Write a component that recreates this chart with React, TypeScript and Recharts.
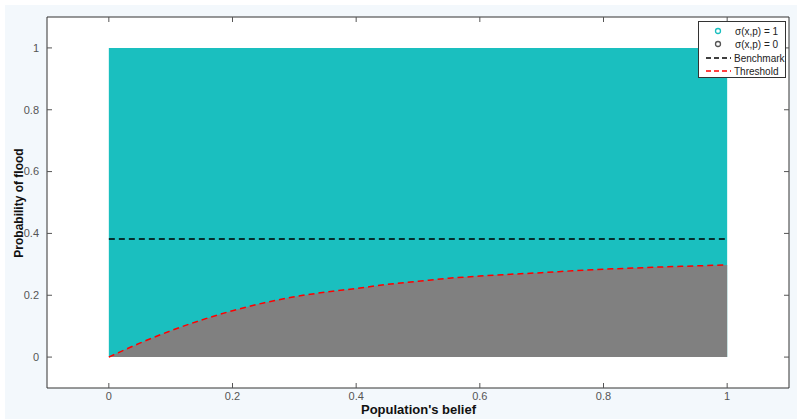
import React from 'react';
import {
  ComposedChart,
  Area,
  Line,
  XAxis,
  YAxis,
  CartesianGrid,
} from 'recharts';

const beliefs = [0, 0.05, 0.1, 0.15, 0.2, 0.25, 0.3, 0.35, 0.4, 0.45, 0.5, 0.55, 0.6, 0.65, 0.7, 0.75, 0.8, 0.85, 0.9, 0.95, 1];
const thresholdValues = [0, 0.045, 0.085, 0.12, 0.15, 0.175, 0.195, 0.21, 0.222, 0.235, 0.245, 0.255, 0.262, 0.268, 0.273, 0.279, 0.284, 0.288, 0.292, 0.295, 0.298];
const floodTop = beliefs.map(() => 1);
const benchmarkValue = 0.382;
const tickValues = [0, 0.2, 0.4, 0.6, 0.8, 1];
const axisDomain = [-0.1, 1.1];

const data = beliefs.map((x, i) => ({
  x,
  top: floodTop[i],
  threshold: thresholdValues[i],
  benchmark: benchmarkValue,
}));

const TEAL = '#1abfbf';
const GREY = '#808080';
const FONT = '"Liberation Sans", Arial, sans-serif';

const tickStyle = { fontSize: 11, fill: '#555', fontFamily: FONT };

// legend drawn by hand, MATLAB style box in the top right corner
const Legend = () => (
  <div
    style={{
      position: 'absolute',
      left: 698,
      top: 21,
      width: 88,
      height: 57,
      background: '#fff',
      border: '1px solid #333',
      boxSizing: 'border-box',
    }}
  >
    <svg width={88} height={57} style={{ position: 'absolute', left: 0, top: 0, fontFamily: FONT }}>
      <circle cx={19} cy={9} r={2.5} fill="none" stroke={TEAL} strokeWidth={1.3} />
      <circle cx={19} cy={22} r={2.5} fill="none" stroke="#555" strokeWidth={1.3} />
      <line x1={7} x2={32} y1={36} y2={36} stroke="#000" strokeWidth={1.5} strokeDasharray="5 3" />
      <line x1={7} x2={32} y1={49} y2={49} stroke="#f00" strokeWidth={1.5} strokeDasharray="5 3" />
      <text x={36} y={12.5} fontSize={10} fill="#222">σ(x,p) = 1</text>
      <text x={36} y={25.5} fontSize={10} fill="#222">σ(x,p) = 0</text>
      <text x={35} y={39.5} fontSize={10} fill="#222">Benchmark</text>
      <text x={35} y={52.5} fontSize={10} fill="#222">Threshold</text>
    </svg>
  </div>
);

export default function App() {
  return (
    <div
      style={{
        position: 'absolute',
        left: 0,
        top: 0,
        width: 797,
        height: 419,
        background: '#fff',
        overflow: 'hidden',
      }}
    >
      <div
        style={{
          position: 'absolute',
          left: 5,
          top: 5,
          width: 792,
          height: 414,
          background: '#f3f8fc',
        }}
      />
      <div style={{ position: 'absolute', left: 0, top: 0 }}>
        <ComposedChart
          width={797}
          height={419}
          data={data}
          margin={{ top: 16, right: 7, bottom: 30, left: 46 }}
        >
          <CartesianGrid fill="#fff" horizontal={false} vertical={false} />
          <XAxis
            dataKey="x"
            type="number"
            domain={axisDomain}
            ticks={tickValues}
            height={1}
            tickSize={-5}
            tickMargin={9}
            tick={tickStyle}
            stroke="#333"
            tickLine={{ stroke: '#555' }}
            allowDataOverflow
          />
          <XAxis
            xAxisId="top"
            orientation="top"
            dataKey="x"
            type="number"
            domain={axisDomain}
            ticks={tickValues}
            height={1}
            tickSize={-5}
            tickFormatter={() => ''}
            stroke="#333"
            tickLine={{ stroke: '#555' }}
            allowDataOverflow
          />
          <YAxis
            type="number"
            domain={axisDomain}
            ticks={tickValues}
            width={1}
            tickSize={-5}
            tickMargin={13}
            tick={tickStyle}
            stroke="#333"
            tickLine={{ stroke: '#555' }}
            allowDataOverflow
          />
          <YAxis
            yAxisId="right"
            orientation="right"
            type="number"
            domain={axisDomain}
            ticks={tickValues}
            width={1}
            tickSize={-5}
            tickFormatter={() => ''}
            stroke="#333"
            tickLine={{ stroke: '#555' }}
            allowDataOverflow
          />
          <Area
            dataKey="top"
            type="linear"
            fill={TEAL}
            fillOpacity={1}
            stroke="none"
            isAnimationActive={false}
          />
          <Area
            dataKey="threshold"
            type="monotone"
            fill={GREY}
            fillOpacity={1}
            stroke="none"
            isAnimationActive={false}
          />
          <Line
            dataKey="benchmark"
            type="linear"
            stroke="#000"
            strokeWidth={1.5}
            strokeDasharray="6 4"
            dot={false}
            isAnimationActive={false}
          />
          <Line
            dataKey="threshold"
            type="monotone"
            stroke="#f00"
            strokeWidth={1.5}
            strokeDasharray="6 4"
            dot={false}
            isAnimationActive={false}
          />
        </ComposedChart>
      </div>
      <div
        style={{
          position: 'absolute',
          left: 0,
          width: 797,
          top: 402,
          textAlign: 'center',
          fontFamily: FONT,
          fontSize: 13,
          fontWeight: 'bold',
          color: '#111',
        }}
      >
        <span style={{ position: 'relative', left: 20 }}>Population's belief</span>
      </div>
      <div
        style={{
          position: 'absolute',
          left: 19,
          top: 203,
          transform: 'translate(-50%, -50%) rotate(-90deg)',
          fontFamily: FONT,
          fontSize: 12,
          fontWeight: 'bold',
          color: '#111',
          whiteSpace: 'nowrap',
        }}
      >
        Probability of flood
      </div>
      <Legend />
    </div>
  );
}
